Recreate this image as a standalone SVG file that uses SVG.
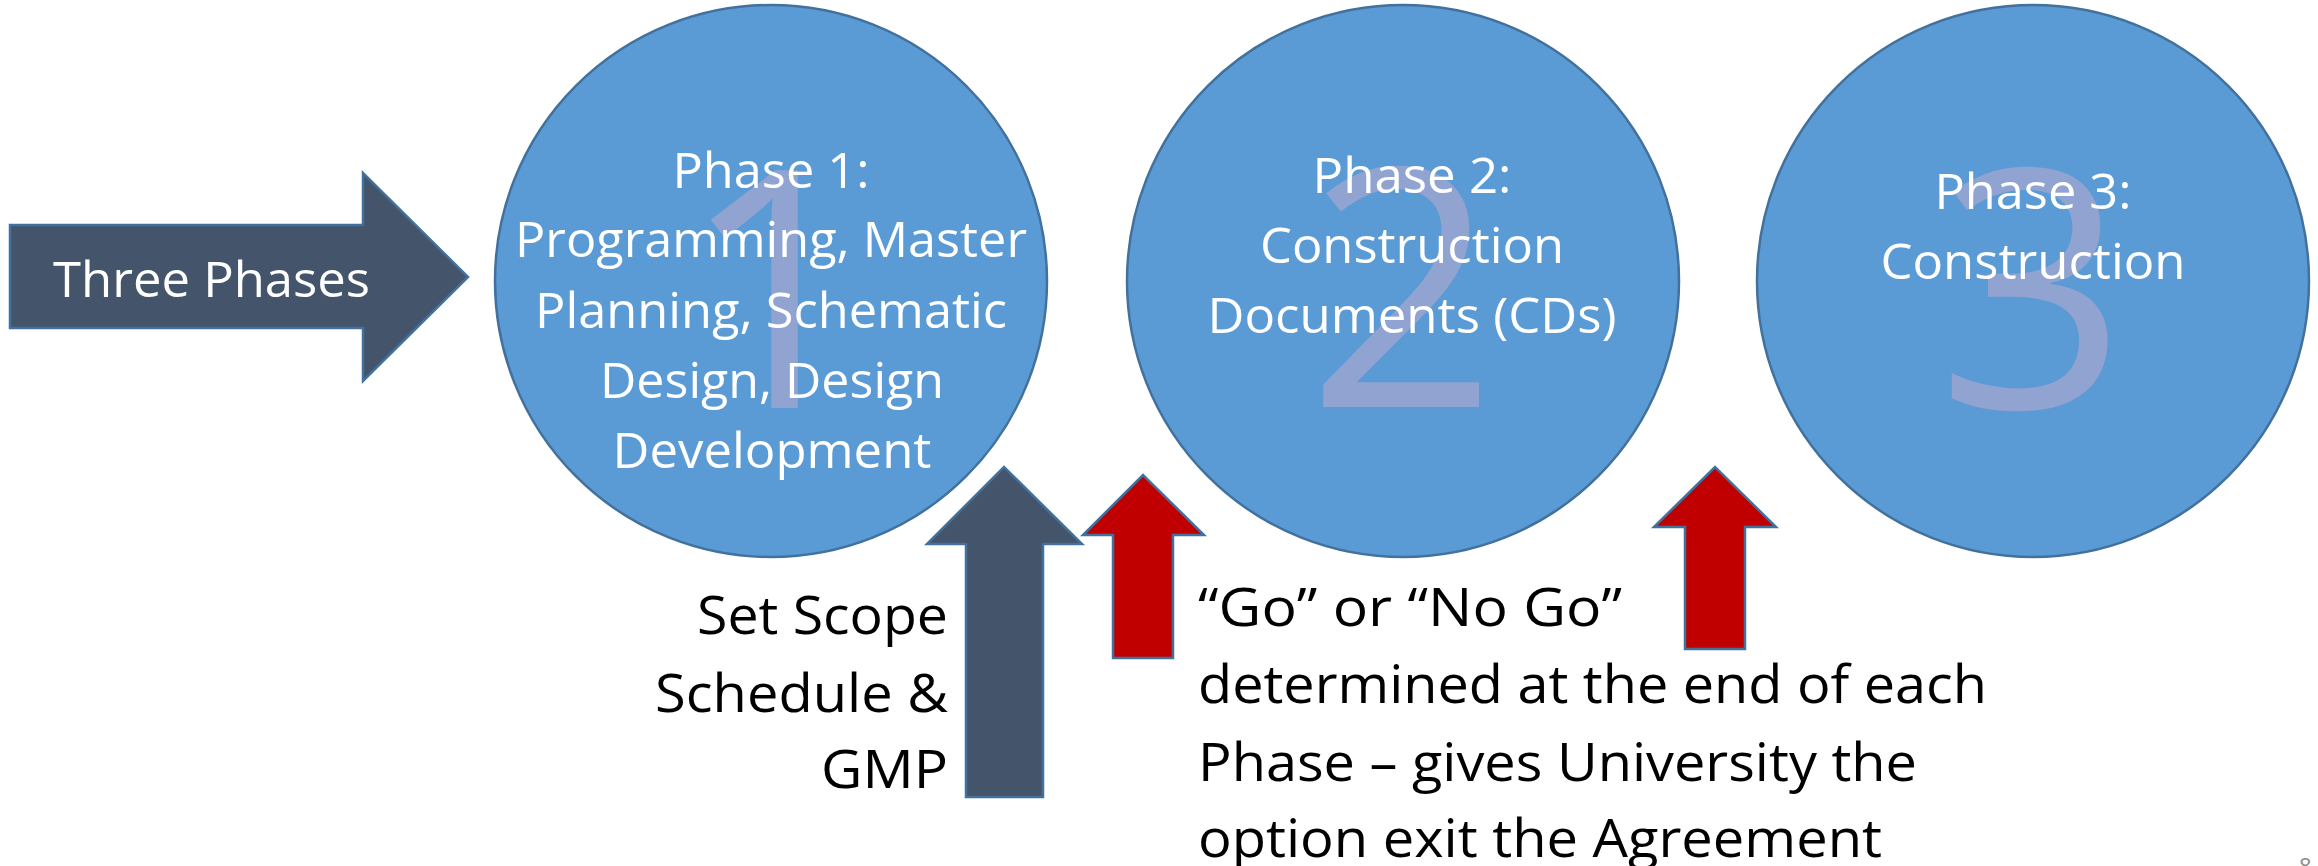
<svg xmlns="http://www.w3.org/2000/svg" width="2318" height="866" viewBox="0 0 2318 866">
<style>
.circle{fill:#5B9BD5;stroke:#41719C;stroke-width:2.5}
.big{font-family:"Open Sans","Noto Sans",sans-serif;font-size:333px;fill:#91A4D1;text-anchor:middle}
.wt{font-family:"Open Sans","Noto Sans",sans-serif;font-size:50px;fill:#FFFFFF;text-anchor:middle}
.bt{font-family:"Open Sans","Noto Sans",sans-serif;font-size:53px;fill:#000000}
.dark{fill:#44546A;stroke:#41719C;stroke-width:2.5}
.red{fill:#C00000;stroke:#41719C;stroke-width:2.5}
</style>
<rect width="2318" height="866" fill="#FFFFFF"/>

<g id="three-phases">
<polygon class="dark" points="10,225 363,225 363,173 468,277 363,381 363,328 10,328"/>
<text x="53" y="297" class="bt" style="fill:#FFFFFF;font-size:49px" textLength="317" lengthAdjust="spacingAndGlyphs">Three Phases</text>
</g>

<g id="phase1">
<circle class="circle" cx="771" cy="281" r="276"/>
<text class="big" x="776" y="408">1</text>
<text class="wt" x="771" y="188" textLength="197" lengthAdjust="spacingAndGlyphs">Phase 1:</text>
<text class="wt" x="771" y="257" textLength="512" lengthAdjust="spacingAndGlyphs">Programming, Master</text>
<text class="wt" x="771" y="328" textLength="472" lengthAdjust="spacingAndGlyphs">Planning, Schematic</text>
<text class="wt" x="772" y="398" textLength="344" lengthAdjust="spacingAndGlyphs">Design, Design</text>
<text class="wt" x="772" y="468" textLength="319" lengthAdjust="spacingAndGlyphs">Development</text>
</g>

<g id="phase2">
<circle class="circle" cx="1403" cy="281" r="276"/>
<text class="big" x="1402" y="407">2</text>
<text class="wt" x="1412" y="193" textLength="199" lengthAdjust="spacingAndGlyphs">Phase 2:</text>
<text class="wt" x="1412" y="263" textLength="304" lengthAdjust="spacingAndGlyphs">Construction</text>
<text class="wt" x="1412" y="333" textLength="409" lengthAdjust="spacingAndGlyphs">Documents (CDs)</text>
</g>

<g id="phase3">
<circle class="circle" cx="2033" cy="281" r="276"/>
<text class="big" x="2032" y="408">3</text>
<text class="wt" x="2033" y="209" textLength="197" lengthAdjust="spacingAndGlyphs">Phase 3:</text>
<text class="wt" x="2033" y="279" textLength="305" lengthAdjust="spacingAndGlyphs">Construction</text>
</g>

<g id="arrows">
<polygon id="scope-arrow" class="dark" points="966,797 966,544 927,544 1004,467 1082,544 1043,544 1043,797"/>
<polygon id="gate1-arrow" class="red" points="1113,658 1113,535 1083,535 1143,475 1204,535 1173,535 1173,658"/>
<polygon id="gate2-arrow" class="red" points="1685,649 1685,527 1654,527 1715,467 1776,527 1745,527 1745,649"/>
</g>

<g id="scope-label">
<text class="bt" x="948" y="634" text-anchor="end" textLength="251" lengthAdjust="spacingAndGlyphs">Set Scope</text>
<text class="bt" x="948" y="712" text-anchor="end" textLength="293" lengthAdjust="spacingAndGlyphs">Schedule &amp;</text>
<text class="bt" x="948" y="788" text-anchor="end" textLength="127" lengthAdjust="spacingAndGlyphs">GMP</text>
</g>

<g id="gate-label">
<text class="bt" x="1198" y="626" textLength="424" lengthAdjust="spacingAndGlyphs">“Go” or “No Go”</text>
<text class="bt" x="1198" y="703" textLength="789" lengthAdjust="spacingAndGlyphs">determined at the end of each</text>
<text class="bt" x="1198" y="781" textLength="719" lengthAdjust="spacingAndGlyphs">Phase – gives University the</text>
<text class="bt" x="1198" y="857" textLength="684" lengthAdjust="spacingAndGlyphs">option exit the Agreement</text>
</g>

<g id="page-number">
<text x="2299" y="874" style="font-family:'Open Sans','Noto Sans',sans-serif;font-size:22px;fill:#898989">8</text>
</g>
</svg>
